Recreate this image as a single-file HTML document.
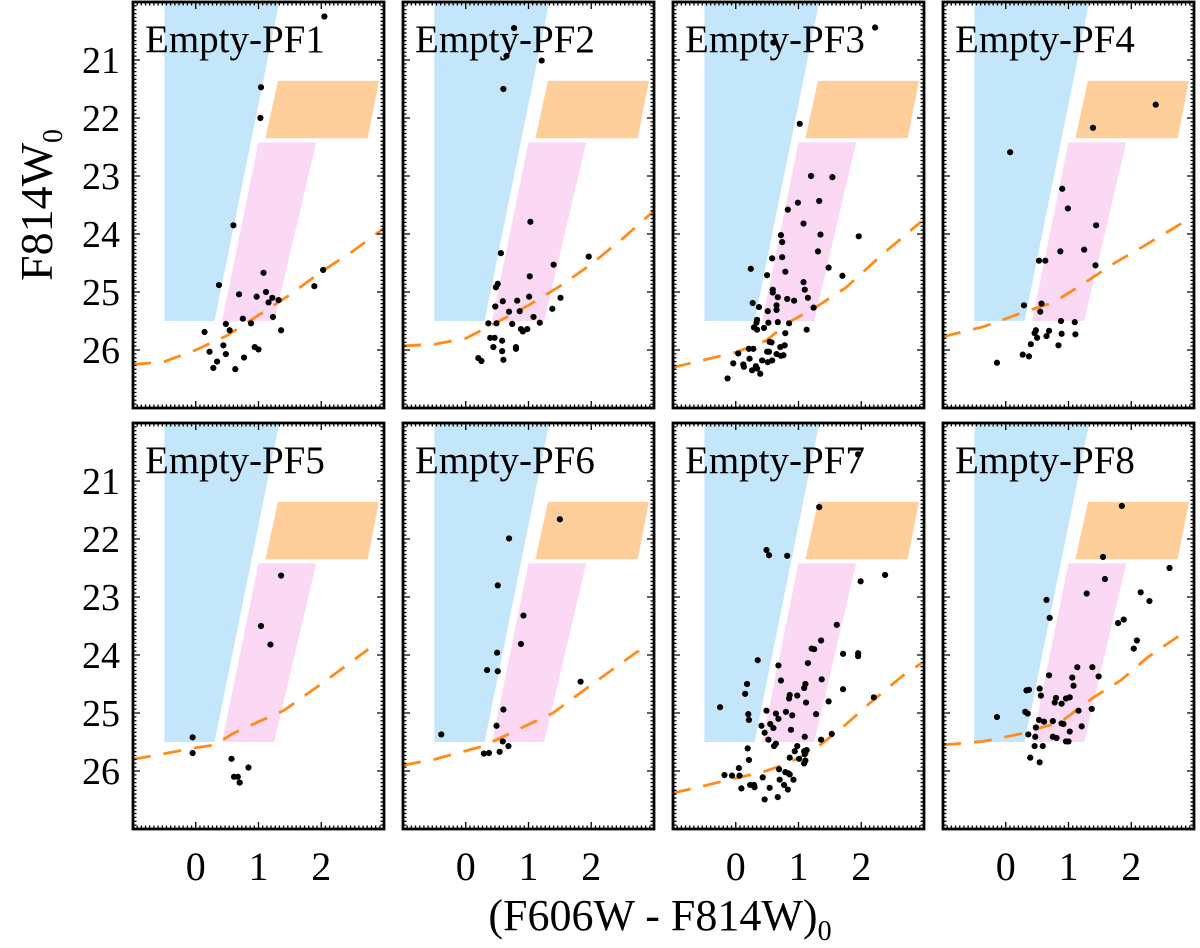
<!DOCTYPE html>
<html><head><meta charset="utf-8"><style>
html,body{margin:0;padding:0;background:#fff;}
svg, svg text{font-family:"Liberation Serif","DejaVu Serif","Times New Roman",serif;}
</style></head><body>
<svg id="chart" width="1200" height="943" viewBox="0 0 1200 943" xmlns="http://www.w3.org/2000/svg" font-family="Liberation Serif, DejaVu Serif, serif">
<text font-family="Liberation Serif, DejaVu Serif, serif" transform="translate(52,205) rotate(-90)" text-anchor="middle" font-size="46">F814W<tspan font-size="28" dy="10">0</tspan></text>
<text font-family="Liberation Serif, DejaVu Serif, serif" x="660" y="930" text-anchor="middle" font-size="44">(F606W - F814W)<tspan font-size="28" dy="10">0</tspan></text>
</svg>
<script>
const panelNames=["Empty-PF1","Empty-PF2","Empty-PF3","Empty-PF4","Empty-PF5","Empty-PF6","Empty-PF7","Empty-PF8"];
const xTicks=[0,1,2];
const yTicks=[21,22,23,24,25,26];
const blueBox=[[-0.5,20],[1.33,20],[0.3,25.5],[-0.5,25.5]];
const pinkBox=[[1.0,22.42],[1.92,22.42],[1.25,25.5],[0.42,25.5]];
const orangeBox=[[1.31,21.36],[2.92,21.36],[2.74,22.35],[1.11,22.35]];
const lim1x=[-1,-0.5,0,0.5,1,1.5,2,2.5,3];
const lim1y=[26.25,26.2,26.0,25.75,25.4,25.05,24.65,24.3,23.9];
const lim2x=[-1,-0.5,0,0.5,1,1.5,2,2.5,3];
const lim2y=[25.93,25.9,25.8,25.52,25.23,24.9,24.52,24.08,23.6];
const lim3x=[-1,0,0.48,0.85,1.28,1.76,2.35,2.95];
const lim3y=[26.3,26.04,25.84,25.52,25.26,24.92,24.34,23.79];
const lim4x=[-1,-0.36,0.28,0.76,1.19,1.72,2.26,2.95];
const lim4y=[25.77,25.6,25.35,25.18,24.89,24.51,24.17,23.72];
const lim5x=[-1,-0.5,0,0.3,0.6,1,1.4,2,2.5,2.75];
const lim5y=[25.8,25.7,25.6,25.55,25.35,25.15,24.96,24.5,24.1,23.9];
const lim6x=[-1,-0.5,0.28,0.86,1.39,2.07,2.71,2.9];
const lim6y=[25.9,25.8,25.57,25.27,25.0,24.46,23.96,23.85];
const lim7x=[-1,-0.37,0.48,0.8,1.23,1.71,2.19,2.67,2.95];
const lim7y=[26.38,26.22,26.0,25.88,25.65,25.24,24.78,24.35,24.15];
const lim8x=[-1,-0.36,0.23,0.5,0.87,1.4,1.83,2.26,2.76];
const lim8y=[25.55,25.49,25.36,25.27,25.16,24.73,24.44,24.04,23.67];
const p1c=[2.05,1.04,1.03,0.6,0.37,1.08,0.69,0.97,1.12,1.22,1.16,1.32,2.03,1.89,0.75,1.23,0.48,0.88,0.54,1.36,0.14,0.44,0.22,0.48,0.94,1.0,0.34,0.77,0.28,0.63];
const p1m=[20.25,21.47,22.0,23.85,24.88,24.67,25.04,25.08,25.0,25.1,25.18,25.14,24.62,24.9,25.46,25.43,25.55,25.54,25.66,25.66,25.69,25.92,26.03,26.07,25.95,25.99,26.2,26.13,26.31,26.33];
const p2c=[0.77,0.65,1.21,0.6,1.03,0.56,1.4,1.96,1.02,0.51,0.48,1.01,1.51,0.59,0.82,0.47,0.69,0.86,1.38,1.08,0.36,0.49,0.74,1.18,0.88,0.91,0.98,0.39,0.46,0.58,0.44,0.8,0.8,0.58,0.2,0.25,0.6];
const p2m=[20.45,20.93,21.01,21.5,23.79,24.33,24.53,24.39,24.73,24.86,24.92,25.08,25.1,25.16,25.15,25.25,25.34,25.33,25.29,25.43,25.54,25.54,25.55,25.53,25.64,25.68,25.64,25.79,25.79,25.84,25.95,25.95,25.98,26.02,26.14,26.19,26.17];
const p3c=[2.22,0.6,1.02,1.2,1.54,0.99,1.33,0.83,1.08,0.72,1.35,1.96,0.74,1.31,0.58,0.74,0.24,1.48,0.79,0.5,1.7,1.08,0.59,1.1,0.59,0.67,1.15,0.82,0.93,0.27,0.37,0.65,1.24,0.51,0.65,0.34,0.33,0.52,0.67,0.85,0.29,0.34,0.45,1.13,0.79,0.54,0.57,0.71,0.78,0.21,0.28,0.5,0.53,0.04,0.65,0.72,0.76,0.22,0.42,0.51,0.58,-0.04,0.12,0.13,0.32,0.34,0.26,0.39,-0.13];
const p3m=[20.44,20.7,22.1,23.0,23.02,23.46,23.43,23.58,23.82,24.02,24.01,24.04,24.14,24.3,24.42,24.4,24.6,24.58,24.65,24.71,24.72,24.83,24.96,24.96,25.01,25.09,25.1,25.12,25.15,25.19,25.26,25.23,25.27,25.33,25.31,25.48,25.53,25.53,25.52,25.54,25.61,25.65,25.62,25.65,25.71,25.86,25.87,25.95,25.92,25.98,25.98,26.03,26.03,26.06,26.07,26.1,26.09,26.15,26.18,26.21,26.18,26.23,26.25,26.29,26.28,26.32,26.35,26.41,26.49];
const p4c=[2.39,1.39,0.07,0.9,0.99,1.44,0.87,1.25,0.53,0.63,1.43,0.29,0.57,0.55,0.88,1.1,0.48,0.46,0.69,0.89,1.11,0.5,0.65,0.4,0.84,0.27,0.37,-0.14];
const p4m=[21.77,22.17,22.59,23.22,23.56,23.85,24.3,24.27,24.46,24.46,24.54,25.23,25.2,25.34,25.5,25.52,25.66,25.71,25.67,25.72,25.73,25.79,25.76,25.9,25.92,26.08,26.11,26.22];
const p5c=[1.36,1.04,1.19,-0.05,-0.05,0.57,0.84,0.61,0.67,0.7];
const p5m=[22.63,23.5,23.82,25.42,25.69,25.79,25.94,26.1,26.1,26.2];
const p6c=[1.5,0.69,0.51,0.92,0.88,0.5,0.34,0.51,1.83,0.6,0.49,-0.39,0.59,0.68,0.54,0.29,0.37];
const p6m=[21.66,21.99,22.8,23.32,23.81,23.96,24.26,24.28,24.46,24.94,25.22,25.37,25.49,25.57,25.67,25.7,25.69];
const p7c=[1.95,1.33,0.49,0.53,0.82,2.38,1.99,1.61,1.36,1.21,1.25,1.71,1.95,1.95,0.35,1.15,0.68,1.37,0.72,0.18,1.11,1.09,1.71,0.15,0.86,0.98,0.85,2.2,1.12,1.48,-0.25,0.49,0.8,0.64,0.9,1.28,0.2,0.21,0.68,0.41,0.55,0.6,0.88,0.46,1.1,1.53,0.52,1.36,0.64,0.61,0.98,0.19,0.94,1.09,1.13,1.1,0.86,0.21,1.01,1.11,1.09,0.05,0.69,0.79,0.84,0.86,-0.18,-0.06,0.06,0.43,0.92,0.7,0.23,0.29,0.3,0.77,0.09,0.54,0.83,0.67,0.46];
const p7m=[20.54,21.45,22.19,22.28,22.29,22.62,22.73,23.48,23.75,23.89,23.9,23.98,23.97,24.02,24.09,24.14,24.18,24.42,24.44,24.5,24.5,24.57,24.59,24.67,24.69,24.7,24.75,24.73,24.82,24.8,24.9,24.96,24.98,25.01,25.04,25.02,25.02,25.12,25.1,25.22,25.19,25.26,25.29,25.34,25.41,25.36,25.46,25.46,25.53,25.57,25.57,25.61,25.66,25.66,25.64,25.71,25.77,25.81,25.79,25.82,25.87,25.95,25.97,26.02,26.04,26.06,26.07,26.08,26.08,26.11,26.15,26.15,26.24,26.24,26.28,26.24,26.3,26.29,26.32,26.45,26.49];
const p8c=[1.85,1.55,2.61,1.58,1.29,2.15,2.29,0.65,0.7,1.88,1.79,2.09,2.04,1.14,1.38,0.69,1.48,1.06,1.08,0.33,0.37,0.54,0.56,0.8,1.02,0.96,0.78,0.89,1.37,1.16,0.31,0.35,-0.14,0.53,0.61,0.75,0.89,0.92,0.48,1.21,1.02,0.36,0.47,0.75,0.81,0.96,1.0,0.46,0.59,0.39,0.54];
const p8m=[21.43,22.31,22.5,22.69,22.94,22.92,23.07,23.05,23.36,23.39,23.45,23.75,23.89,24.21,24.21,24.35,24.37,24.39,24.53,24.61,24.6,24.58,24.7,24.74,24.73,24.75,24.82,24.84,24.93,24.96,24.98,25.01,25.07,25.12,25.15,25.14,25.18,25.19,25.25,25.23,25.32,25.37,25.41,25.41,25.43,25.49,25.49,25.57,25.57,25.77,25.85];

const colors=[p1c,p2c,p3c,p4c,p5c,p6c,p7c,p8c];
const mags=[p1m,p2m,p3m,p4m,p5m,p6m,p7m,p8m];
const limX=[lim1x,lim2x,lim3x,lim4x,lim5x,lim6x,lim7x,lim8x];
const limY=[lim1y,lim2y,lim3y,lim4y,lim5y,lim6y,lim7y,lim8y];

const NS="http://www.w3.org/2000/svg";
const FONT="Liberation Serif, DejaVu Serif, serif";
const svg=document.getElementById("chart");
const LEFTS=[133,403,673,943], TOPS=[2,423], W=251, H=406;
const XMIN=-1,XMAX=3,YMIN=20,YMAX=27;
function mk(tag,attrs,parent){const e=document.createElementNS(NS,tag);for(const k in attrs)e.setAttribute(k,attrs[k]);(parent||svg).appendChild(e);return e;}

for(let p=0;p<8;p++){
  const L=LEFTS[p%4], T=TOPS[Math.floor(p/4)];
  const sx=x=>L+(x-XMIN)/(XMAX-XMIN)*W;
  const sy=m=>T+(m-YMIN)/(YMAX-YMIN)*H;
  const g=mk("g",{});
  
  
  const cid="clip"+p;
  const cp=mk("clipPath",{id:cid},g);
  mk("rect",{x:L,y:T,width:W,height:H},cp);
  const inner=mk("g",{"clip-path":"url(#"+cid+")"},g);
  const regions=[[blueBox,"#c4e6fb","blue-region"],[pinkBox,"#fbd8f3","pink-region"],[orangeBox,"#fecf9b","orange-region"]];
  for(const r of regions){
    const poly=mk("polygon",{points:r[0].map(q=>sx(q[0])+","+sy(q[1])).join(" "),fill:r[1]},inner);
    
    
  }
  const lx=limX[p], ly=limY[p];
  const line=mk("polyline",{points:lx.map((x,i)=>sx(x)+","+sy(ly[i])).join(" "),fill:"none",stroke:"#ff8c1a","stroke-width":2.8,"stroke-dasharray":"18,13"},inner);
  
  
  const cs=colors[p], ms=mags[p];
  for(let i=0;i<cs.length;i++){
    const c=mk("circle",{cx:sx(cs[i]),cy:sy(ms[i]),r:3.1,fill:"#000"},inner);
    
    
  }
  const t=mk("text",{x:L+12,y:T+50,"font-size":39,"font-family":FONT},g);
  t.textContent=panelNames[p];
  
  
  let d="";
  for(let k=0;k<=60;k++){const x=XMIN+k/15;if(x>XMAX+1e-6)break;const px=sx(x);const len=(k%15===0)?7:3.5;
    d+="M"+px+","+(T+H)+"v"+(-len)+"M"+px+","+T+"v"+len;}
  for(let k=0;k<=105;k++){const m=YMIN+k/15;if(m>YMAX+1e-6)break;const py=sy(m);const len=(k%15===0)?7:3.5;
    d+="M"+L+","+py+"h"+len+"M"+(L+W)+","+py+"h"+(-len);}
  const tk=mk("path",{d:d,stroke:"#000","stroke-width":1.3,fill:"none"},g);
  
  
  const fr=mk("rect",{x:L,y:T,width:W,height:H,fill:"none",stroke:"#000","stroke-width":2.8},g);
  
  
  if(p%4===0){
    for(const m of yTicks){
      const yl=mk("text",{x:120,y:sy(m)+13,"text-anchor":"end","font-size":38,"font-family":FONT},g);
      yl.textContent=String(m);
      
      
    }
  }
  if(p>=4){
    for(const x of xTicks){
      const xl=mk("text",{x:sx(x),y:880,"text-anchor":"middle","font-size":40,"font-family":FONT},g);
      xl.textContent=String(x);
      
      
    }
  }
}
</script>
</body></html>
